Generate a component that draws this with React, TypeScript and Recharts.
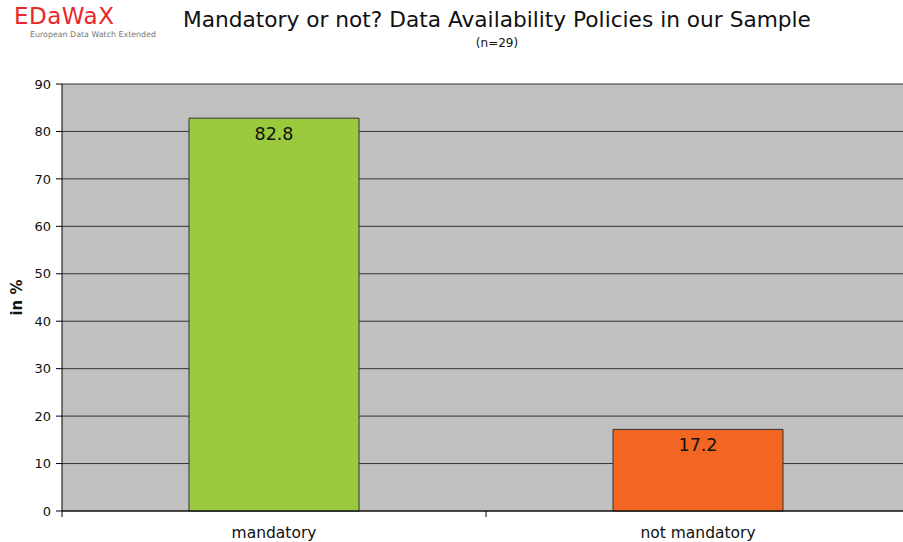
import React from "react";
import { BarChart, Bar, XAxis, YAxis, CartesianGrid, Cell, LabelList } from "recharts";

const categories = ["mandatory", "not mandatory"];
const shares = [82.8, 17.2];
const barColors = ["#9AC93D", "#F26522"];
const yTicks = [0, 10, 20, 30, 40, 50, 60, 70, 80, 90];

const data = categories.map((c, i) => ({ name: c, value: shares[i] }));

const FONT = "'DejaVu Sans', sans-serif";

const XTick = (props: any) => {
  const { x, y, payload, index, visibleTicksCount } = props;
  const off = payload.offset || 0;
  return (
    <g>
      <line x1={x - off} x2={x - off} y1={y - 8} y2={y - 2} stroke="#000" />
      {index === (visibleTicksCount ?? 2) - 1 && (
        <line x1={x + off - 1} x2={x + off - 1} y1={y - 8} y2={y - 2} stroke="#000" />
      )}
      <text x={x} y={y + 19} textAnchor="middle" fontFamily={FONT} fontSize={15.5} fill="#111">
        {payload.value}
      </text>
    </g>
  );
};

export default function App() {
  return (
    <div style={{ position: "absolute", left: 0, top: 0, width: 903, height: 542, overflow: "hidden", background: "#fff", fontFamily: FONT }}>
      <div style={{ position: "absolute", left: 14, top: 3, color: "#e8262c", fontSize: 23, fontWeight: 500, letterSpacing: 0.5 }}>EDaWaX</div>
      <div style={{ position: "absolute", left: 30, top: 30, color: "#777", fontSize: 7.9 }}>European Data Watch Extended</div>
      <div style={{ position: "absolute", left: 0, width: 994, top: 7, textAlign: "center", fontSize: 21.7, color: "#111", whiteSpace: "nowrap" }}>
        Mandatory or not? Data Availability Policies in our Sample
      </div>
      <div style={{ position: "absolute", left: 0, width: 994, top: 36, textAlign: "center", fontSize: 12, color: "#111" }}>(n=29)</div>
      <BarChart width={910} height={542} data={data} margin={{ top: 84, right: 0, bottom: 0, left: 0 }} barCategoryGap={0}>
        <CartesianGrid fill="#c0c0c0" vertical={false} stroke="#333" />
        <XAxis dataKey="name" height={31} axisLine={{ stroke: "#000" }} tickLine={false} tick={<XTick />} interval={0} />
        <YAxis
          width={62}
          domain={[0, 90]}
          ticks={yTicks}
          interval={0}
          axisLine={{ stroke: "#000" }}
          tickLine={{ stroke: "#000" }}
          tickMargin={5}
          tick={{ fontFamily: FONT, fontSize: 13, fill: "#111" }}
          label={{ value: "in %", angle: -90, position: "insideLeft", offset: 17, style: { fontFamily: FONT, fontSize: 15, fontWeight: "bold", fill: "#111", textAnchor: "middle" } }}
        />
        <Bar dataKey="value" barSize={170} stroke="#333" strokeWidth={1} isAnimationActive={false}>
          {data.map((d, i) => (
            <Cell key={d.name} fill={barColors[i]} />
          ))}
          <LabelList dataKey="value" position="insideTop" offset={9} style={{ fontFamily: FONT, fontSize: 17.5, fill: "#111" }} formatter={(v: any) => Number(v).toFixed(1)} />
        </Bar>
      </BarChart>
    </div>
  );
}
